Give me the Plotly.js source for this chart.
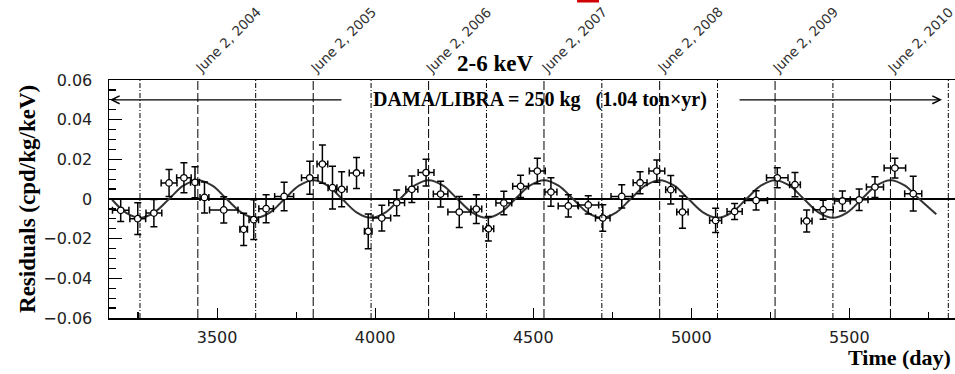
<!DOCTYPE html>
<html>
<head>
<meta charset="utf-8">
<script src="https://cdn.plot.ly/plotly-3.0.1.min.js"></script>
<style>
html, body { margin: 0; padding: 0; background: #fff; overflow: hidden; }
#chart { width: 980px; height: 374px; }
</style>
</head>
<body>
<div id="chart"></div>
<script>
// ---- data ----
const days = [3195, 3249, 3300, 3348, 3395, 3430, 3460, 3521, 3584, 3616,
              3655, 3712, 3793, 3833, 3865, 3894, 3941, 3978, 4021, 4068,
              4116, 4161, 4207, 4266, 4320, 4358, 4407, 4460, 4513, 4556,
              4611, 4674, 4720, 4780, 4838, 4891, 4935, 4972, 5077, 5137,
              5205, 5272, 5328, 5365, 5417, 5478, 5531, 5581, 5644, 5702];
const resid = [-0.0057, -0.0099, -0.0071, 0.0081, 0.0107, 0.0084, 0.0008, -0.0055, -0.0153, -0.0104,
               -0.0049, 0.0013, 0.0107, 0.0176, 0.0057, 0.0049, 0.0131, -0.0163, -0.0096, -0.0019,
               0.0049, 0.0133, 0.0025, -0.0066, -0.0051, -0.0150, -0.0020, 0.0064, 0.0141, 0.0035,
               -0.0035, -0.0030, -0.0096, 0.0013, 0.0082, 0.0141, 0.0047, -0.0066, -0.0108, -0.0063,
               -0.0007, 0.0107, 0.0072, -0.0111, -0.0054, -0.0010, -0.0004, 0.0060, 0.0156, 0.0027];
const dayErr = [26, 25, 25, 25, 23, 14, 14, 45, 12, 15,
                23, 30, 26, 17, 14, 17, 23, 12, 28, 25,
                19, 25, 23, 36, 17, 17, 25, 25, 25, 19,
                32, 33, 23, 34, 22, 25, 16, 18, 19, 24,
                36, 34, 17, 17, 32, 25, 28, 27, 34, 27];
const residErr = [0.0056, 0.0080, 0.0069, 0.0068, 0.0076, 0.0078, 0.0078, 0.0066, 0.0081, 0.0100,
                  0.0071, 0.0072, 0.0083, 0.0096, 0.0108, 0.0088, 0.0078, 0.0088, 0.0065, 0.0065,
                  0.0067, 0.0067, 0.0065, 0.0078, 0.0072, 0.0062, 0.0059, 0.0056, 0.0064, 0.0072,
                  0.0056, 0.0046, 0.0067, 0.0059, 0.0056, 0.0056, 0.0072, 0.0081, 0.0061, 0.0040,
                  0.0049, 0.0050, 0.0061, 0.0056, 0.0048, 0.0050, 0.0054, 0.0052, 0.0050, 0.0088];

// fit curve, read as nodes from the picture
const curveDays = [3168, 3210, 3256, 3302, 3348, 3393, 3439, 3485, 3530, 3576,
                   3622, 3668, 3713, 3759, 3804, 3850, 3896, 3941, 3987, 4033,
                   4078, 4124, 4169, 4215, 4260, 4306, 4352, 4398, 4443, 4489,
                   4534, 4580, 4626, 4671, 4717, 4763, 4808, 4854, 4900, 4946,
                   4991, 5037, 5083, 5129, 5174, 5220, 5265, 5311, 5356, 5402,
                   5448, 5494, 5539, 5585, 5630, 5676, 5721, 5775];
const curveVals = [-0.0004, -0.0067, -0.0095, -0.0067, 0, 0.0067, 0.0095, 0.0067, 0, -0.0067,
                   -0.0095, -0.0067, 0, 0.0067, 0.0095, 0.0067, 0, -0.0067, -0.0095, -0.0067,
                   0, 0.0067, 0.0095, 0.0067, 0, -0.0067, -0.0095, -0.0067, 0, 0.0067,
                   0.0095, 0.0067, 0, -0.0067, -0.0095, -0.0067, 0, 0.0067, 0.0095, 0.0067,
                   0, -0.0067, -0.0095, -0.0067, 0, 0.0067, 0.0095, 0.0067, 0, -0.0067,
                   -0.0095, -0.0067, 0, 0.0067, 0.0095, 0.0067, 0, -0.0077];

// June 2 (dashed) and December 2 (dash-dot) reference dates, in days
const juneDays = [3439, 3804, 4169, 4534, 4900, 5265, 5630];
const juneLabels = ['June 2, 2004', 'June 2, 2005', 'June 2, 2006', 'June 2, 2007',
                    'June 2, 2008', 'June 2, 2009', 'June 2, 2010'];
const decDays = [3256, 3622, 3987, 4352, 4717, 5083, 5448, 5813];

// arrows of the exposure label (tail, head) in days, at residual level
const arrowLevel = 0.05;
const leftArrow = [3898, 3161];
const rightArrow = [5148, 5793];

const serif = 'Liberation Serif, Times New Roman, serif';
const sans = 'DejaVu Sans, sans-serif';

const traces = [
  {
    x: curveDays, y: curveVals, type: 'scatter', mode: 'lines',
    line: { color: '#333', width: 2, shape: 'spline', smoothing: 1 },
    hoverinfo: 'skip'
  },
  {
    x: days, y: resid, type: 'scatter', mode: 'markers',
    marker: { symbol: 'circle', size: 6.5, color: '#fff', line: { color: '#000', width: 1.3 } },
    error_x: { type: 'data', array: dayErr, visible: true, color: '#000', thickness: 1.5, width: 3.5 },
    error_y: { type: 'data', array: residErr, visible: true, color: '#000', thickness: 1.5, width: 3.5 }
  }
];

const shapes = [];
juneDays.forEach(d => shapes.push({
  type: 'line', xref: 'x', yref: 'paper', x0: d, x1: d, y0: 0, y1: 1,
  line: { color: '#000', width: 1, dash: '9px,3px' }
}));
decDays.forEach(d => shapes.push({
  type: 'line', xref: 'x', yref: 'paper', x0: d, x1: d, y0: 0, y1: 1,
  line: { color: '#000', width: 1, dash: '5px,2px,1px,2px' }
}));
// small red mark at the very top edge of the picture
shapes.push({ type: 'rect', xref: 'paper', yref: 'paper', x0: 0.55, x1: 0.5758, y0: 1.3256, y1: 1.34,
  fillcolor: '#d00000', line: { width: 0 } });

const annotations = [];
juneDays.forEach((d, i) => annotations.push({
  x: d, y: 1, xref: 'x', yref: 'paper', text: juneLabels[i], showarrow: false,
  textangle: -45, xanchor: 'left', yanchor: 'bottom', xshift: -9, yshift: 1,
  font: { family: sans, size: 13.5, color: '#333' }
}));
annotations.push({
  x: 0.4536, y: 1.0714, xref: 'paper', yref: 'paper', text: '<b>2-6 keV</b>', showarrow: false,
  xanchor: 'center', yanchor: 'middle', font: { family: serif, size: 23, color: '#000' }
});
annotations.push({
  x: 4522, y: arrowLevel, xref: 'x', yref: 'y',
  text: '<b>DAMA/LIBRA = 250 kg\u00a0\u00a0\u00a0(1.04 ton\u00d7yr)</b>', showarrow: false,
  xanchor: 'center', yanchor: 'middle', font: { family: serif, size: 20, color: '#000' }
});
[leftArrow, rightArrow].forEach(a => annotations.push({
  x: a[1], y: arrowLevel, ax: a[0], ay: arrowLevel, xref: 'x', yref: 'y', axref: 'x', ayref: 'y',
  text: '', showarrow: true, arrowhead: 5, arrowsize: 1.3, arrowwidth: 1.2, arrowcolor: '#000',
  standoff: 0, startstandoff: 0
}));
annotations.push({
  x: -0.0964, y: 0.5, xref: 'paper', yref: 'paper', text: '<b>Residuals (cpd/kg/keV)</b>',
  showarrow: false, textangle: -90, xanchor: 'center', yanchor: 'middle',
  font: { family: serif, size: 23, color: '#000' }
});
annotations.push({
  x: 0.992, y: -0.164, xref: 'paper', yref: 'paper', text: '<b>Time (day)</b>',
  showarrow: false, xanchor: 'right', yanchor: 'middle',
  font: { family: serif, size: 22, color: '#000' }
});

const layout = {
  width: 980, height: 374, autosize: false,
  margin: { l: 109, r: 20, t: 80, b: 56, pad: 0 },
  paper_bgcolor: '#fff', plot_bgcolor: '#fff',
  showlegend: false,
  xaxis: {
    range: [3158, 5850], showgrid: false, zeroline: false,
    showline: true, mirror: true, linecolor: '#000', linewidth: 1.5,
    ticks: 'inside', ticklen: 10, tickwidth: 1.2, tickcolor: '#000',
    dtick: 500, tick0: 0, ticklabelstandoff: 4,
    tickfont: { family: sans, size: 16, color: '#222' },
    minor: { dtick: 250, ticks: 'inside', ticklen: 6, tickwidth: 1.2, tickcolor: '#000', showgrid: false }
  },
  yaxis: {
    range: [-0.06, 0.06], showgrid: false,
    zeroline: true, zerolinecolor: '#000', zerolinewidth: 1.5,
    showline: true, mirror: true, linecolor: '#000', linewidth: 1.5,
    ticks: 'inside', ticklen: 13, tickwidth: 1.2, tickcolor: '#000',
    dtick: 0.02, tick0: 0, ticklabelstandoff: 12,
    tickfont: { family: sans, size: 16, color: '#222' },
    minor: { dtick: 0.005, ticks: 'inside', ticklen: 7, tickwidth: 1.2, tickcolor: '#000', showgrid: false }
  },
  shapes: shapes,
  annotations: annotations
};

Plotly.newPlot('chart', traces, layout, { displayModeBar: false, staticPlot: true });
</script>
</body>
</html>
